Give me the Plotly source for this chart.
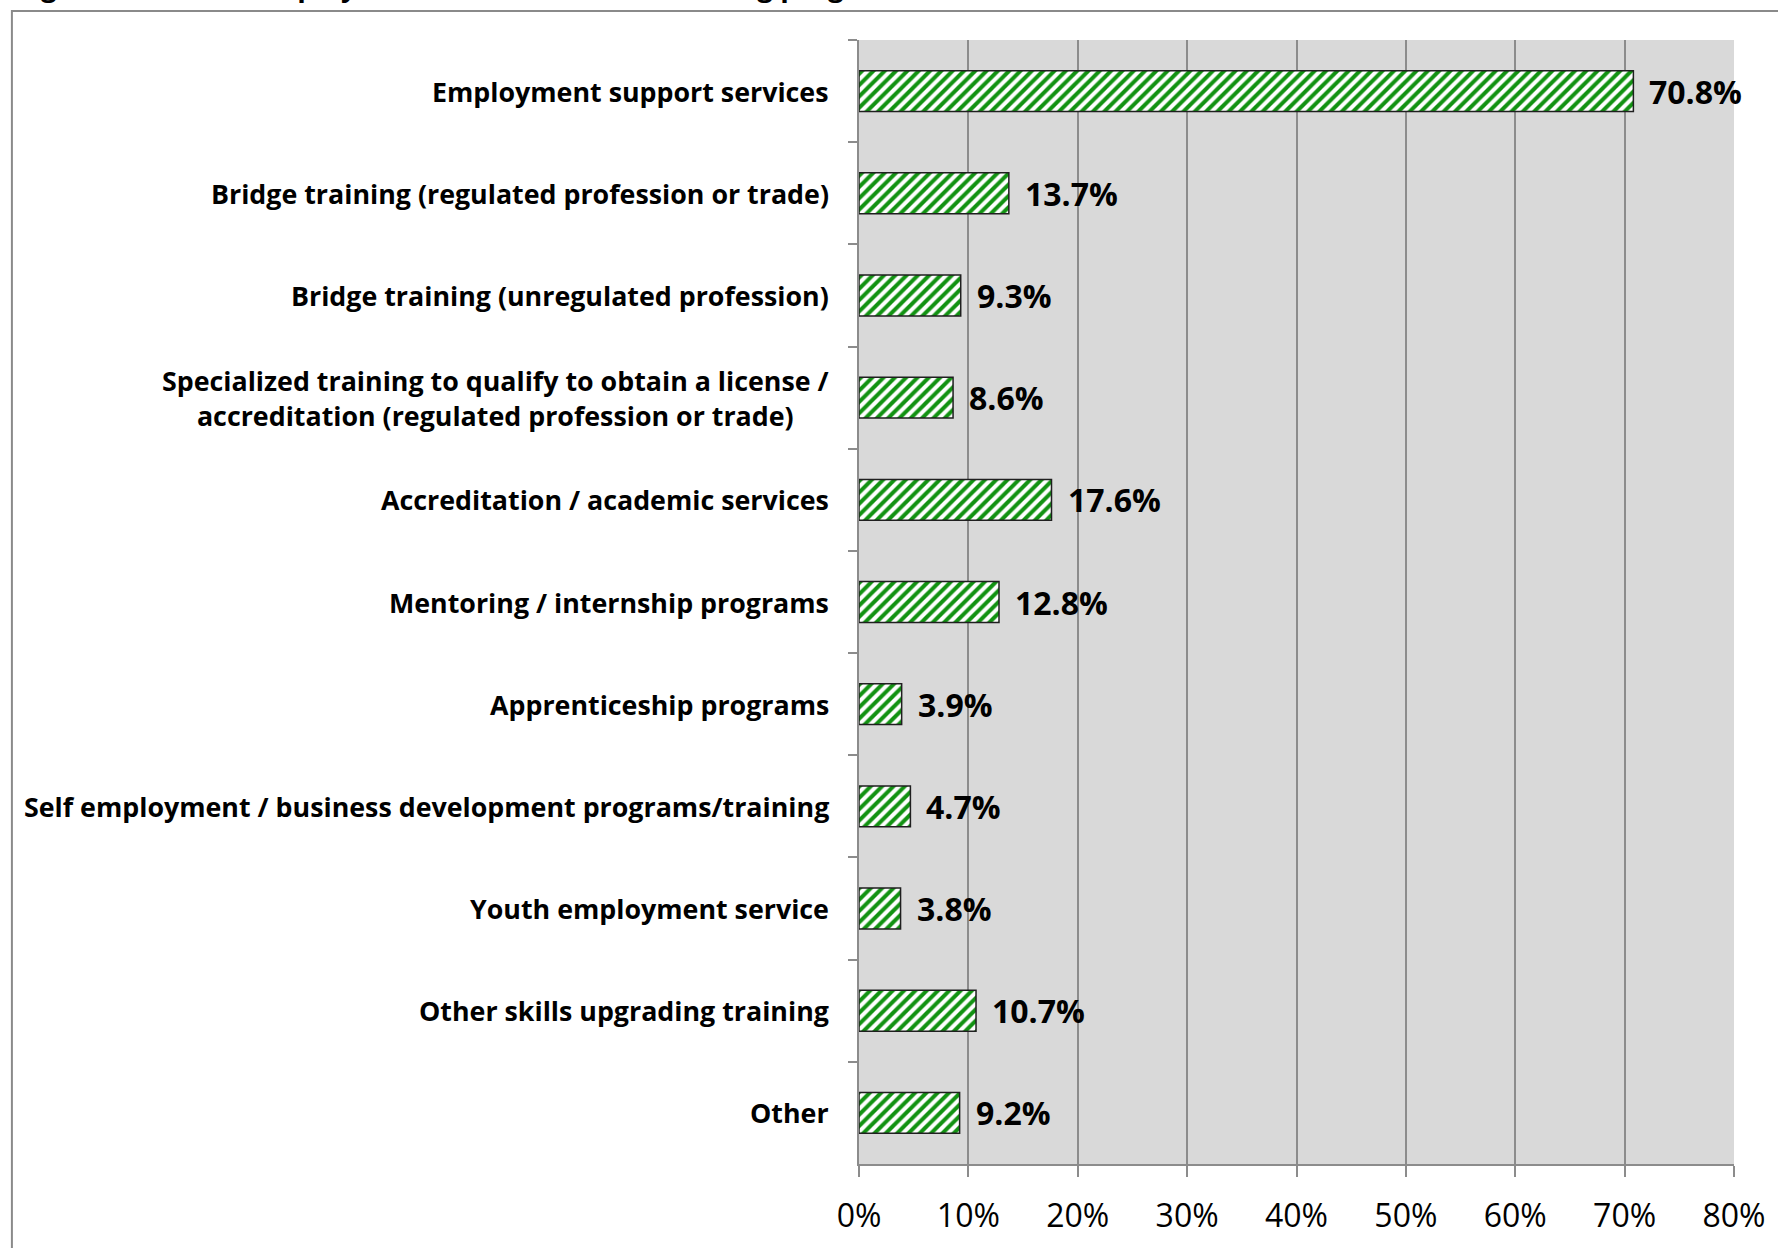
import plotly.graph_objects as go

# Programs used, top to bottom as listed
categories = [
    "Employment support services",
    "Bridge training (regulated profession or trade)",
    "Bridge training (unregulated profession)",
    "Specialized training to qualify to obtain a license /<br>accreditation (regulated profession or trade)",
    "Accreditation / academic services",
    "Mentoring / internship programs",
    "Apprenticeship programs",
    "Self employment / business development programs/training",
    "Youth employment service",
    "Other skills upgrading training",
    "Other",
]
values = [70.8, 13.7, 9.3, 8.6, 17.6, 12.8, 3.9, 4.7, 3.8, 10.7, 9.2]
x_tick_values = [0, 10, 20, 30, 40, 50, 60, 70, 80]
x_tick_labels = ["0%", "10%", "20%", "30%", "40%", "50%", "60%", "70%", "80%"]
title_text = "Figure 12: Use of employment and other skills training programs accessed to date (%)"

FONT = "Open Sans"
W, H = 1778, 1248
L, R, T, B = 859, 41, 40, 80
plot_w = W - L - R
plot_h = H - T - B


def px_to_paper_x(px):
    return (px - L) / plot_w


def px_to_paper_y(py):
    return (H - B - py) / plot_h


fig = go.Figure()
fig.add_trace(go.Bar(
    y=categories,
    x=values,
    orientation="h",
    width=0.4,
    marker=dict(
        color="white",
        line=dict(color="#1f1f1f", width=1.5),
        pattern=dict(shape="/", fgcolor="#129212", bgcolor="white",
                     size=8, solidity=0.5, fillmode="replace"),
    ),
    hoverinfo="skip",
))

annotations = []
# category labels (centred multi-line text, right-aligned against the axis)
for cat in categories:
    annotations.append(dict(
        x=0, y=cat, xref="x", yref="y", xanchor="right", yanchor="middle",
        xshift=-28, text=cat, showarrow=False, align="center",
        font=dict(family=FONT, size=26.8, color="black", weight="bold"),
    ))
# value labels at the end of each bar
for cat, v in zip(categories, values):
    annotations.append(dict(
        x=v, y=cat, xref="x", yref="y", xanchor="left", yanchor="middle",
        xshift=14, text=f"{v:.1f}%", showarrow=False,
        font=dict(family=FONT, size=32, color="black", weight="bold"),
    ))
# title sits above the frame
annotations.append(dict(
    x=px_to_paper_x(12), y=px_to_paper_y(6), xref="paper", yref="paper",
    xanchor="left", yanchor="bottom", text=title_text, showarrow=False,
    font=dict(family=FONT, size=28, color="black", weight="bold"),
))

fig.update_layout(
    width=W, height=H,
    margin=dict(l=L, r=R, t=T, b=B, pad=0),
    paper_bgcolor="white",
    plot_bgcolor="#d9d9d9",
    showlegend=False,
    annotations=annotations,
    shapes=[dict(
        type="rect", xref="paper", yref="paper",
        x0=px_to_paper_x(9), x1=px_to_paper_x(W + 20),
        y0=px_to_paper_y(H + 20), y1=px_to_paper_y(11),
        line=dict(color="#8a8a8a", width=2), fillcolor="rgba(0,0,0,0)",
        layer="below",
    )],
    xaxis=dict(
        range=[0, 80],
        tickvals=x_tick_values, ticktext=x_tick_labels,
        showgrid=True, gridcolor="#8c8c8c", gridwidth=1.5,
        showline=True, linecolor="#8c8c8c", linewidth=1.5,
        ticks="outside", ticklen=11, tickcolor="#8c8c8c", tickwidth=1.5,
        ticklabelstandoff=12,
        tickfont=dict(family=FONT, size=32, color="black"),
        zeroline=False, fixedrange=True,
    ),
    yaxis=dict(
        autorange="reversed",
        showticklabels=False,
        tickson="boundaries",
        ticks="outside", ticklen=9, tickcolor="#8c8c8c", tickwidth=1.5,
        showline=True, linecolor="#8c8c8c", linewidth=1.5,
        showgrid=False, zeroline=False, fixedrange=True,
    ),
)

fig.write_html("out.html")
